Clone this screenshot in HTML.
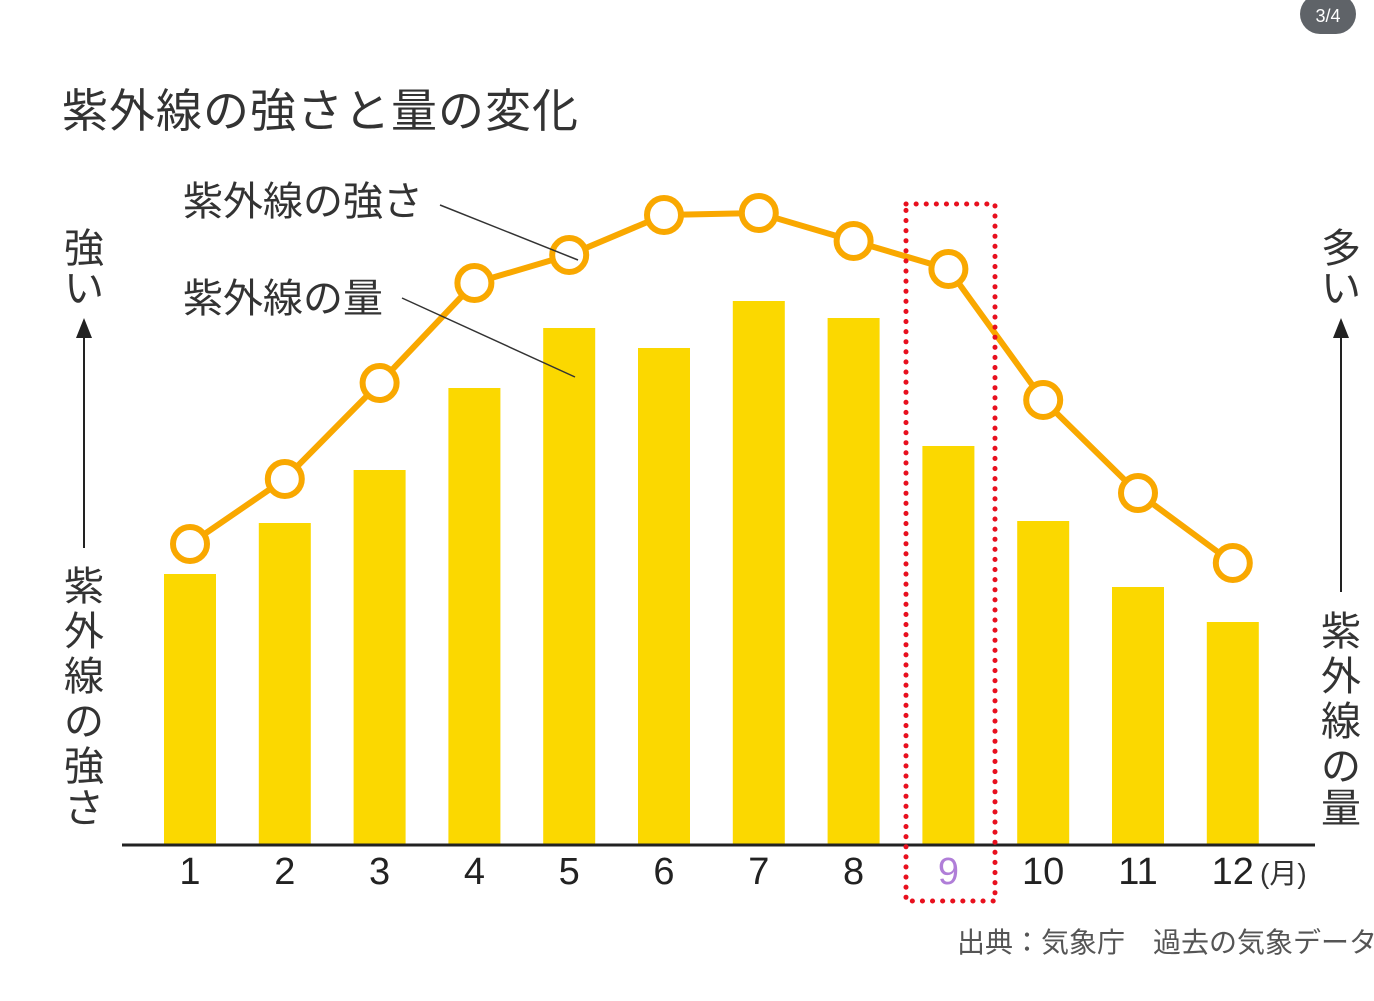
<!DOCTYPE html>
<html><head><meta charset="utf-8"><style>
html,body{margin:0;padding:0;background:#fff;width:1374px;height:1001px;overflow:hidden}
svg{display:block}
text{font-family:"Liberation Sans","Noto Sans CJK JP",sans-serif}
</style></head><body>
<svg id="c" width="1374" height="1001">
<rect x="1300" y="-6" width="56" height="40" rx="20" fill="#5f6368"/>
<text x="1328" y="22" font-size="18" fill="#fff" text-anchor="middle">3/4</text>
<text x="62" y="127" font-size="46" letter-spacing="1" fill="#333">紫外線の強さと量の変化</text>
<g>
<text x="84" y="262" font-size="40" fill="#333" text-anchor="middle">強</text>
<text x="84" y="302" font-size="40" fill="#333" text-anchor="middle">い</text>
<text x="84" y="600" font-size="40" fill="#333" text-anchor="middle">紫</text>
<text x="84" y="645" font-size="40" fill="#333" text-anchor="middle">外</text>
<text x="84" y="690" font-size="40" fill="#333" text-anchor="middle">線</text>
<text x="84" y="735" font-size="40" fill="#333" text-anchor="middle">の</text>
<text x="84" y="780" font-size="40" fill="#333" text-anchor="middle">強</text>
<text x="84" y="822" font-size="40" fill="#333" text-anchor="middle">さ</text>
<line x1="84" y1="335" x2="84" y2="548" stroke="#222" stroke-width="2"/>
<polygon points="84,318 76,338 92,338" fill="#222"/>
</g>
<g>
<text x="1341" y="262" font-size="40" fill="#333" text-anchor="middle">多</text>
<text x="1341" y="302" font-size="40" fill="#333" text-anchor="middle">い</text>
<text x="1341" y="645" font-size="40" fill="#333" text-anchor="middle">紫</text>
<text x="1341" y="690" font-size="40" fill="#333" text-anchor="middle">外</text>
<text x="1341" y="735" font-size="40" fill="#333" text-anchor="middle">線</text>
<text x="1341" y="780" font-size="40" fill="#333" text-anchor="middle">の</text>
<text x="1341" y="822" font-size="40" fill="#333" text-anchor="middle">量</text>
<line x1="1341" y1="335" x2="1341" y2="592" stroke="#222" stroke-width="2"/>
<polygon points="1341,318 1333,338 1349,338" fill="#222"/>
</g>
<g id="bars"></g>
<g id="line"></g>
<line x1="122" y1="845" x2="1315" y2="845" stroke="#222" stroke-width="3"/>
<g id="ticks"></g>
<text x="1260" y="883" font-size="28" fill="#333">(月)</text>
<rect x="906" y="204" width="89" height="697" fill="none" stroke="#e8101e" stroke-width="5" stroke-dasharray="0.1 10" stroke-linecap="round"/>
<text x="183" y="215" font-size="40" fill="#333">紫外線の強さ</text>
<line x1="440" y1="205" x2="578" y2="260" stroke="#333" stroke-width="1.5"/>
<text x="183" y="312" font-size="40" fill="#333">紫外線の量</text>
<line x1="402" y1="298" x2="575" y2="377" stroke="#333" stroke-width="1.5"/>
<text x="957" y="952" font-size="28" fill="#555">出典：気象庁　過去の気象データ</text>
</svg>
<script>
const months=["1","2","3","4","5","6","7","8","9","10","11","12"];
const amount=[271,322,375,457,517,497,544,527,399,324,258,223];
const intensity=[301,366,462,562,590,630,632,604,576,445,352,282];
const ns="http://www.w3.org/2000/svg";
const x0=190,step=94.8,base=845;
function xs(i){return x0+i*step}
function ys(v){return base-v}
function mk(t,a,p){const e=document.createElementNS(ns,t);for(const k in a)e.setAttribute(k,a[k]);p.appendChild(e);return e}
const bars=document.getElementById('bars'),line=document.getElementById('line'),ticks=document.getElementById('ticks');
amount.forEach((v,i)=>{
 const r=mk('rect',{x:xs(i)-26,y:ys(v),width:52,height:v,fill:'#fbd800'},bars);
 
 
});
const pts=intensity.map((v,i)=>xs(i)+','+ys(v)).join(' ');
const pl=mk('polyline',{points:pts,fill:'none',stroke:'#f9a800','stroke-width':6,'stroke-linejoin':'round'},line);


intensity.forEach((v,i)=>{
 const c=mk('circle',{cx:xs(i),cy:ys(v),r:17,fill:'#fff',stroke:'#f9a800','stroke-width':6},line);
 
 
});
months.forEach((m,i)=>{
 const t=mk('text',{x:xs(i),y:884,'font-size':38,'text-anchor':'middle',fill:i===8?'#b07ed8':'#222'},ticks);
 t.textContent=m;
 
 
});
</script>
</body></html>
